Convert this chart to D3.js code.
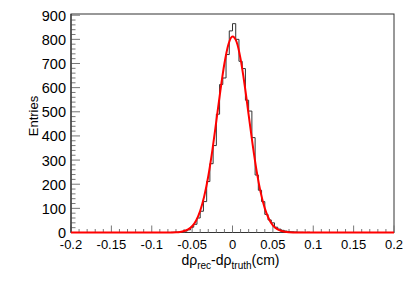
<!DOCTYPE html>
<html>
<head>
<meta charset="utf-8">
<script src="https://d3js.org/d3.v7.min.js"></script>
<style>
  body { margin: 0; background: white; }
  text { font-family: "Liberation Sans", Arial, sans-serif; }
</style>
</head>
<body>
<div id="chart"></div>
<script>

// histogram bins, width 0.004, first bin starts at binStart
var binStart = -0.080
var binWidth = 0.004
var binCounts = [0, 1, 1, 2, 3, 6, 11, 22, 34, 60,
    88, 128, 211, 285, 360, 490, 613, 640, 737, 835,
    865, 800, 709, 679, 548, 503, 393, 238, 175, 128,
    75, 52, 40, 22, 14, 9, 6, 4, 3, 2,
    1, 1, 0, 1, 0]

// gaussian fit curve
var fitX = [-0.2, -0.09, -0.08, -0.075, -0.07, -0.065, -0.06, -0.055, -0.05, -0.045, -0.04, -0.035, -0.03, -0.025, -0.02, -0.015, -0.01, -0.005,
    0, 0.005, 0.01, 0.015, 0.02, 0.025, 0.03, 0.035, 0.04, 0.045, 0.05, 0.055, 0.06, 0.065, 0.07, 0.075, 0.08, 0.09, 0.2]
var fitY = [0, 0, 0.2, 0.4, 1, 2.5, 6, 13, 26, 50, 90, 150, 233, 339, 462, 588, 700, 780,
    812, 790, 719, 612, 487, 363, 252, 164, 100, 57, 30, 15, 7, 3, 1.2, 0.4, 0.2, 0, 0]

var xTicks = [-0.2, -0.15, -0.1, -0.05, 0, 0.05, 0.1, 0.15, 0.2]
var yTicks = [0, 100, 200, 300, 400, 500, 600, 700, 800, 900]

var width = 415, height = 281
var margin = { top: 14, right: 21, bottom: 48.5, left: 71 }

var svg = d3.select("#chart").append("svg")
    .attr("width", width)
    .attr("height", height)

var x = d3.scaleLinear().domain([-0.2, 0.2]).range([margin.left, width - margin.right])
var y = d3.scaleLinear().domain([0, 905]).range([height - margin.bottom, margin.top])

// frame
svg.append("rect")
    .attr("x", x(-0.2))
    .attr("y", y(905))
    .attr("width", x(0.2) - x(-0.2))
    .attr("height", y(0) - y(905))
    .attr("fill", "none")
    .attr("stroke", "#333")
    .attr("stroke-width", 1)

// minor/major ticks drawn inside the frame
var xMinor = d3.range(-20, 21).map(function (i) { return i / 100 })
svg.append("g").selectAll("line")
    .data(xMinor)
    .join("line")
    .attr("x1", function (d) { return x(d) })
    .attr("x2", function (d) { return x(d) })
    .attr("y1", y(0))
    .attr("y2", function (d, i) { return y(0) - (i % 5 == 0 ? 7 : 3.5) })
    .attr("stroke", "#777")

var yMinor = d3.range(0, 46).map(function (i) { return i * 20 })
svg.append("g").selectAll("line")
    .data(yMinor)
    .join("line")
    .attr("y1", function (d) { return y(d) })
    .attr("y2", function (d) { return y(d) })
    .attr("x1", x(-0.2))
    .attr("x2", function (d, i) { return x(-0.2) + (i % 5 == 0 ? 9 : 4.5) })
    .attr("stroke", "#777")

svg.append("line")
    .attr("x1", x(-0.2)).attr("x2", x(-0.2))
    .attr("y1", y(0)).attr("y2", y(905))
    .attr("stroke", "#222")

// histogram outline
var histPts = []
histPts.push([x(-0.2), y(0)])
histPts.push([x(binStart), y(0)])
binCounts.forEach(function (c, i) {
    var lo = binStart + i * binWidth
    histPts.push([x(lo), y(c)])
    histPts.push([x(lo + binWidth), y(c)])
})
histPts.push([x(binStart + binCounts.length * binWidth), y(0)])
histPts.push([x(0.2), y(0)])

svg.append("path")
    .attr("d", d3.line()(histPts))
    .attr("fill", "none")
    .attr("stroke", "#333")
    .attr("stroke-width", 1)

// fit
var fitLine = d3.line()
    .x(function (d, i) { return x(fitX[i]) })
    .y(function (d) { return y(d) })
    .curve(d3.curveMonotoneX)

svg.append("path")
    .attr("d", fitLine(fitY))
    .attr("fill", "none")
    .attr("stroke", "#ff0000")
    .attr("stroke-width", 2)

// tick labels
svg.append("g").selectAll("text")
    .data(xTicks)
    .join("text")
    .attr("x", function (d) { return x(d) })
    .attr("y", 248.5)
    .attr("text-anchor", "middle")
    .attr("font-size", 13)
    .text(function (d) { return d })

svg.append("g").selectAll("text")
    .data(yTicks)
    .join("text")
    .attr("x", 66)
    .attr("y", function (d) { return y(d) + 5.5 })
    .attr("text-anchor", "end")
    .attr("font-size", 14.5)
    .text(function (d) { return d })

// axis titles
var xt = svg.append("text")
    .attr("x", x(0) - 2)
    .attr("y", 265)
    .attr("text-anchor", "middle")
    .attr("font-size", 14)
xt.append("tspan").text("dρ")
xt.append("tspan").attr("font-size", 10).attr("dy", 4).text("rec")
xt.append("tspan").attr("dy", -4).text("-dρ")
xt.append("tspan").attr("font-size", 10).attr("dy", 4).text("truth")
xt.append("tspan").attr("dy", -4).text("(cm)")

svg.append("text")
    .attr("transform", "translate(38,116) rotate(-90)")
    .attr("text-anchor", "middle")
    .attr("font-size", 13)
    .text("Entries")

</script>
</body>
</html>
